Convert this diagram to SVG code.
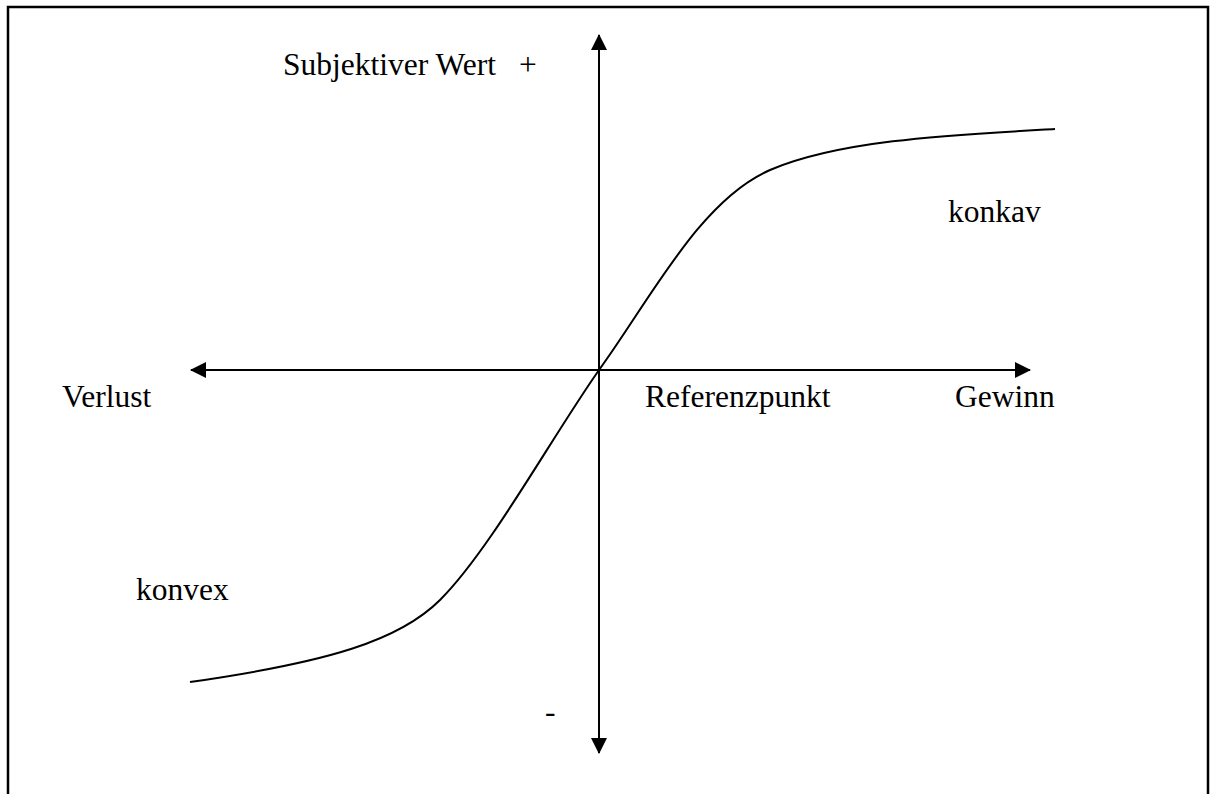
<svg xmlns="http://www.w3.org/2000/svg" width="1210" height="794" viewBox="0 0 1210 794">
<style>
.ax{stroke:#000;stroke-width:2;fill:none}
.t{font-family:"Liberation Serif","Times New Roman",serif;font-size:31.5px;fill:#000}
</style>
<defs>
<marker id="ah" viewBox="0 0 16 16" refX="15" refY="8" markerWidth="16" markerHeight="16" markerUnits="userSpaceOnUse" orient="auto">
<path d="M0,0 L16,8 L0,16 Z" fill="#000"/>
</marker>
</defs>
<rect width="1210" height="794" fill="#fff"/>
<rect x="8" y="7" width="1200" height="830" fill="none" stroke="#000" stroke-width="2.5"/>
<g id="connectors">
<line class="ax" x1="599" y1="753" x2="599" y2="35" marker-end="url(#ah)"/>
<line class="ax" x1="599" y1="370" x2="599" y2="753" marker-end="url(#ah)"/>
<line class="ax" x1="599" y1="370" x2="191" y2="370" marker-end="url(#ah)"/>
<line class="ax" x1="599" y1="370" x2="1030" y2="370" marker-end="url(#ah)"/>
</g>
<g id="curve">
<path class="ax" d="M190,682 C330,662 400,640 440,600 C490,550 550,440 599,370 C650,300 700,200 770,170 C840,140 950,135 1055,129"/>
</g>
<g id="labels">
<text class="t" x="283" y="75" xml:space="preserve">Subjektiver Wert<tspan x="519">+</tspan></text>
<text class="t" x="948" y="222">konkav</text>
<text class="t" x="62" y="407">Verlust</text>
<text class="t" x="645" y="407">Referenzpunkt</text>
<text class="t" x="955" y="407">Gewinn</text>
<text class="t" x="136" y="600">konvex</text>
<text class="t" x="545" y="722">-</text>
</g>
</svg>
